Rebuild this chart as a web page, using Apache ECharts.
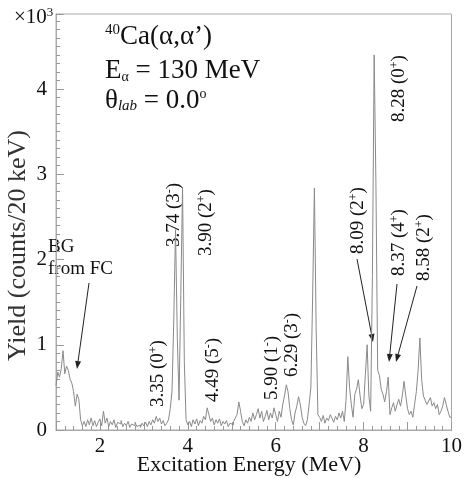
<!DOCTYPE html>
<html>
<head>
<meta charset="utf-8">
<script src="https://cdn.jsdelivr.net/npm/echarts@6/dist/echarts.min.js"></script>
<style>
html,body{margin:0;padding:0;background:#fff;}
#chart{width:465px;height:478px;}
</style>
</head>
<body>
<div id="chart"></div>
<script>
// Histogram: 0.04 MeV bins starting at 1.00 MeV (yield in units of 10^3 counts / 20 keV)
const binStart = 1.0;
const binWidth = 0.04;
const yield1to2 = [0.52,0.68,0.62,0.72,0.93,0.66,0.75,0.70,0.60,0.55,0.45,0.28,0.42,0.36,0.12,0.05,0.10,0.04,0.12,0.06,0.14,0.05,0.11,0.04,0.09];
const yield2to3 = [0.13,0.05,0.22,0.08,0.14,0.04,0.10,0.06,0.12,0.03,0.09,0.07,0.11,0.04,0.08,0.05,0.10,0.03,0.07,0.05,0.09,0.04,0.06,0.03,0.08];
const yield3to4 = [0.05,0.09,0.04,0.10,0.06,0.12,0.08,0.16,0.10,0.14,0.07,0.11,0.05,0.08,0.12,0.25,0.45,1.30,2.35,1.10,0.35,1.60,2.85,0.80,0.12];
const yield4to5 = [0.06,0.10,0.04,0.12,0.07,0.13,0.05,0.11,0.08,0.16,0.12,0.26,0.18,0.10,0.14,0.06,0.12,0.08,0.13,0.05,0.10,0.07,0.11,0.04,0.08];
const yield5to6 = [0.06,0.10,0.14,0.18,0.33,0.22,0.10,0.05,0.12,0.08,0.15,0.10,0.20,0.12,0.18,0.25,0.14,0.22,0.10,0.16,0.23,0.12,0.20,0.14,0.26];
const yield6to7 = [0.18,0.10,0.22,0.15,0.30,0.40,0.53,0.45,0.25,0.12,0.06,0.20,0.28,0.39,0.30,0.15,0.08,0.05,0.12,0.30,0.50,1.56,2.84,1.20,0.18];
const yield7to8 = [0.15,0.10,0.17,0.08,0.14,0.11,0.18,0.14,0.09,0.16,0.12,0.20,0.14,0.22,0.10,0.35,0.86,0.50,0.30,0.15,0.42,0.48,0.59,0.40,0.25];
const yield8to9 = [0.30,0.65,1.00,0.40,0.22,1.80,4.40,2.90,0.70,0.64,0.48,0.42,0.33,0.45,0.62,0.18,0.26,0.32,0.22,0.30,0.36,0.28,0.40,0.57,0.40];
const yield9to10 = [0.25,0.18,0.22,0.15,0.30,0.45,0.70,1.08,0.60,0.40,0.35,0.30,0.34,0.38,0.28,0.32,0.25,0.30,0.18,0.22,0.28,0.38,0.30,0.22,0.15];

const xTicks = [2,4,6,8,10];
const yTicks = [0,1,2,3,4];

const allYield = [].concat(yield1to2,yield2to3,yield3to4,yield4to5,yield5to6,yield6to7,yield7to8,yield8to9,yield9to10);
const histData = allYield.map((v,i)=>[+(binStart+i*binWidth).toFixed(2), v]);
histData.push([+(binStart+allYield.length*binWidth).toFixed(2), allYield[allYield.length-1]]);

const serif = '"Liberation Serif","DejaVu Serif",serif';
const chart = echarts.init(document.getElementById('chart'), null, {renderer:'canvas'});

function vlabel(x, y, main, sup){
  return {
    type:'text', x:x, y:y, rotation:Math.PI/2,
    style:{
      text: main + '{s|' + sup + '})',
      rich:{ s:{fontSize:12, fontFamily:serif, fill:'#111', verticalAlign:'top', padding:[0,0,9,0]} },
      fontFamily:serif, fontSize:19, fill:'#111', align:'left', verticalAlign:'middle'
    }
  };
}
function arrow(x1,y1,x2,y2){
  const a = Math.atan2(y2-y1, x2-x1);
  const L = 8, W = 3;
  const bx = x2 - L*Math.cos(a), by = y2 - L*Math.sin(a);
  const px = -Math.sin(a)*W, py = Math.cos(a)*W;
  return [
    {type:'line', shape:{x1:x1,y1:y1,x2:bx,y2:by}, style:{stroke:'#222', lineWidth:1}},
    {type:'polygon', shape:{points:[[x2,y2],[bx+px,by+py],[bx-px,by-py]]}, style:{fill:'#222'}}
  ];
}

const graphics = [
  {type:'text', x:14, y:29, style:{text:'×10{s|3}', rich:{s:{fontSize:13,fontFamily:serif,fill:'#111',verticalAlign:'top',padding:[0,0,10,0]}}, fontFamily:serif, fontSize:21, fill:'#111', verticalAlign:'bottom'}},
  {type:'text', x:105, y:50, style:{text:'{s|40}Ca(α,α’)', rich:{s:{fontSize:15,fontFamily:serif,fill:'#111',verticalAlign:'top',padding:[0,0,12,0]}}, fontFamily:serif, fontSize:27, fill:'#111', verticalAlign:'bottom'}},
  {type:'text', x:105, y:84, style:{text:'E{a|α} = 130 MeV', rich:{a:{fontSize:14,fontFamily:serif,fill:'#111',verticalAlign:'bottom'}}, fontFamily:serif, fontSize:27, fill:'#111', verticalAlign:'bottom'}},
  {type:'text', x:105, y:114, style:{text:'θ{a|lab} = 0.0{s|o}', rich:{a:{fontSize:15,fontStyle:'italic',fontFamily:serif,fill:'#111',verticalAlign:'bottom'}, s:{fontSize:14,fontFamily:serif,fill:'#111',verticalAlign:'top',padding:[0,0,8,0]}}, fontFamily:serif, fontSize:27, fill:'#111', verticalAlign:'bottom'}},
  {type:'text', x:249, y:476, style:{text:'Excitation Energy (MeV)', fontFamily:serif, fontSize:22, fill:'#111', align:'center', verticalAlign:'bottom'}},
  {type:'text', x:18, y:130, rotation:Math.PI/2, style:{text:'Yield (counts/20 keV)', fontFamily:serif, fontSize:26, fill:'#333', align:'right', verticalAlign:'middle'}},
  {type:'text', x:48, y:258, style:{text:'BG\nfrom FC', fontFamily:serif, fontSize:19, lineHeight:22, fill:'#111', verticalAlign:'middle'}},
  vlabel(158, 407, '3.35 (0', '+'),
  vlabel(174, 247, '3.74 (3', '-'),
  vlabel(206, 256, '3.90 (2', '+'),
  vlabel(213, 402, '4.49 (5', '-'),
  vlabel(272, 400, '5.90 (1', '-'),
  vlabel(292, 377, '6.29 (3', '-'),
  vlabel(358, 254, '8.09 (2', '+'),
  vlabel(399, 122, '8.28 (0', '+'),
  vlabel(399, 276, '8.37 (4', '+'),
  vlabel(424, 281, '8.58 (2', '+')
].concat(arrow(89,283,77,369), arrow(357,259,373,342), arrow(397,284,389,362), arrow(417,286,396,362));

chart.setOption({
  animation:false,
  backgroundColor:'#fff',
  grid:{left:56, right:5, top:14, bottom:48, show:true, borderColor:'#aaa', borderWidth:1},
  xAxis:{
    type:'value', min:1, max:10, interval:1,
    axisLine:{show:true, lineStyle:{color:'#aaa'}},
    axisTick:{show:true, inside:true, length:8, lineStyle:{color:'#999'}},
    minorTick:{show:true, splitNumber:5, length:4, lineStyle:{color:'#999'}},
    splitLine:{show:false},
    axisLabel:{fontFamily:serif, fontSize:21, color:'#111', margin:6,
      formatter:v=> xTicks.indexOf(v)>=0 ? String(v) : ''}
  },
  yAxis:{
    type:'value', min:0, max:4.88, interval:1,
    axisLine:{show:true, lineStyle:{color:'#aaa'}},
    axisTick:{show:true, inside:true, length:8, lineStyle:{color:'#999'}},
    minorTick:{show:true, splitNumber:10, length:4, lineStyle:{color:'#999'}},
    splitLine:{show:false},
    axisLabel:{fontFamily:serif, fontSize:21, color:'#111', margin:9, showMaxLabel:false,
      formatter:v=> yTicks.indexOf(v)>=0 ? String(v) : ''}
  },
  series:[{
    type:'line', data:histData, step:'end', showSymbol:false, symbol:'none',
    lineStyle:{color:'#8a8a8a', width:1}, clip:true
  }],
  graphic:graphics
});
</script>
</body>
</html>
